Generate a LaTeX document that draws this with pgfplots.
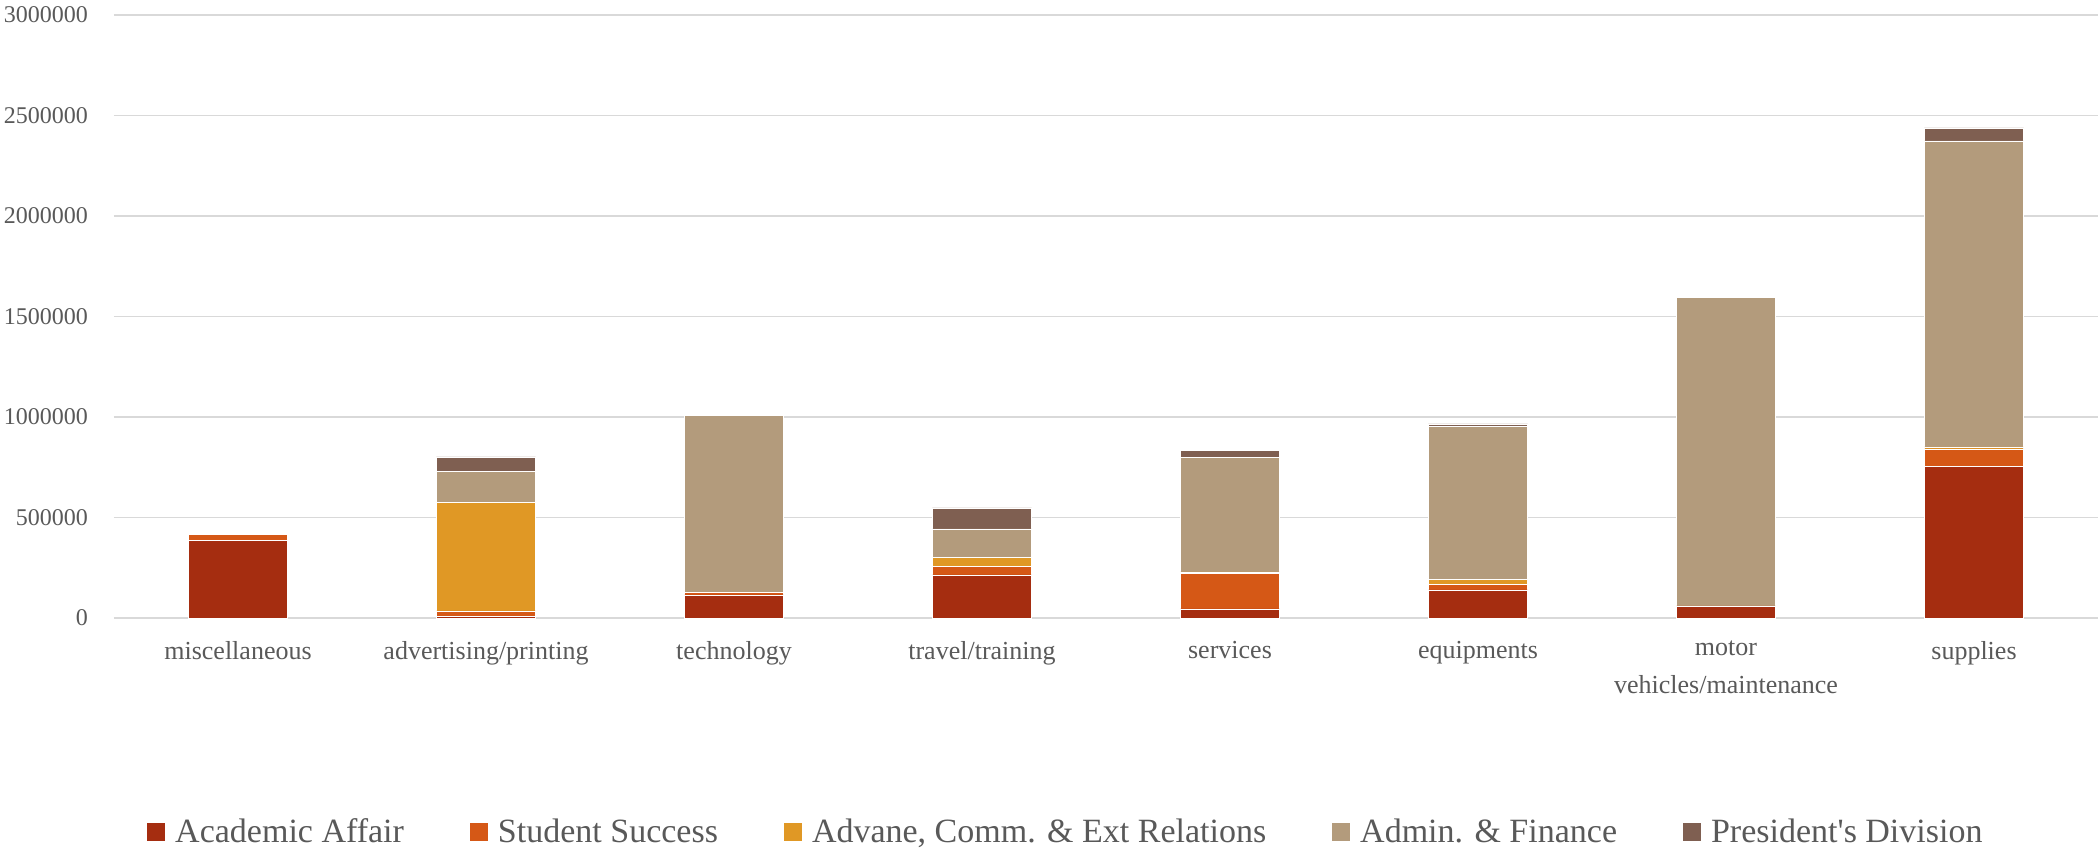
\documentclass[border=0pt]{standalone}
\usepackage{fontspec}
\setmainfont{Liberation Serif}
\usepackage{pgfplots}
\pgfplotsset{compat=1.18}
\definecolor{cA}{HTML}{A52D10}
\definecolor{cB}{HTML}{D55816}
\definecolor{cC}{HTML}{E09825}
\definecolor{cD}{HTML}{B39B7C}
\definecolor{cE}{HTML}{7F5F51}
\definecolor{gridc}{HTML}{D9D9D9}
\definecolor{textc}{HTML}{595959}
\begin{document}
\begin{tikzpicture}
\path[use as bounding box] (-57pt,-116.5pt) rectangle (992pt,309pt);
\begin{axis}[
  scale only axis, width=992pt, height=301.5pt,
  ybar stacked, bar width=0.4,
  xmin=-0.5, xmax=7.5, ymin=0, ymax=3000000,
  xtick={0,1,2,3,4,5,6,7},
  xticklabels={miscellaneous, advertising/printing, technology, travel/training, services, equipments, {motor\\[3pt]vehicles/maintenance}, supplies},
  ytick={0,500000,1000000,1500000,2000000,2500000,3000000},
  scaled y ticks=false,
  /pgf/number format/fixed,
  /pgf/number format/1000 sep={},
  /pgf/number format/assume math mode=true,
  axis x line*=bottom, axis y line*=left,
  axis line style={draw=none},
  major tick length=0pt,
  ymajorgrids,
  grid style={color=gridc, line width=0.75pt},
  yticklabel style={font=\fontsize{12}{14}\selectfont, text=textc, xshift=-9.5pt},
  xticklabel style={font=\fontsize{13}{16}\selectfont, text=textc, align=center, yshift=-8pt},
  legend style={at={(0.4803,-0.355)}, anchor=center, draw=none, legend columns=5,
    font=\fontsize{17}{20}\selectfont, text=textc,
    /tikz/every even column/.append style={column sep=31pt}},
  legend cell align=left,
  legend image code/.code={\fill[#1, draw=none] (0pt,-4.5pt) rectangle (9pt,4.5pt); \path[draw=none, fill=none] (0pt,0pt) -- (12pt,0pt);},
  every axis plot/.append style={draw=white, line width=0.25pt},
]
\addplot[fill=cA] coordinates {(0,387000) (1,8000) (2,115000) (3,214000) (4,46000) (5,140000) (6,58000) (7,754000)};
\addplot[fill=cB] coordinates {(0,29000) (1,27000) (2,14000) (3,42000) (4,177000) (5,29000) (6,2000) (7,87000)};
\addplot[fill=cC] coordinates {(0,0) (1,540000) (2,0) (3,44000) (4,6000) (5,23000) (6,0) (7,10000)};
\addplot[fill=cD] coordinates {(0,0) (1,156000) (2,879000) (3,144000) (4,571000) (5,762000) (6,1535000) (7,1523000)};
\addplot[fill=cE] coordinates {(0,0) (1,71000) (2,0) (3,104000) (4,33000) (5,12000) (6,4000) (7,65000)};
\legend{Academic Affair, Student Success, {Advane, Comm. \& Ext Relations}, Admin. \& Finance, President\textquotesingle s Division}
\end{axis}
\end{tikzpicture}
\end{document}
